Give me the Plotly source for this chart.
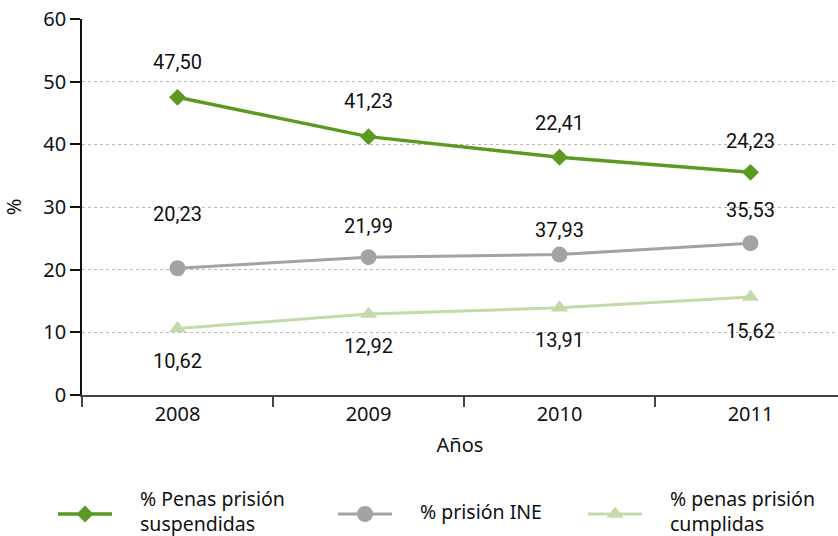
import plotly.graph_objects as go

# ---- data ----
years = ["2008", "2009", "2010", "2011"]
suspendidas = [47.50, 41.23, 37.93, 35.53]
prision_ine = [20.23, 21.99, 22.41, 24.23]
cumplidas = [10.62, 12.92, 13.91, 15.62]

labels_suspendidas = ["47,50", "41,23", "22,41", "24,23"]
labels_ine = ["20,23", "21,99", "37,93", "35,53"]
labels_cumplidas = ["10,62", "12,92", "13,91", "15,62"]

series_names = ["% Penas prisión<br>suspendidas", "% prisión INE", "% penas prisión<br>cumplidas"]

GREEN = "#5a9a22"
GRAY = "#a3a3a3"
LIGHT = "#c3dbaa"
AXFONT = "Noto Sans"
LBLFONT = "Roboto"
TXT = "#111"

W, H = 838, 536
left, top, bottom = 82, 19, 395

fig = go.Figure()

styles = [
    (suspendidas, GREEN, "diamond", 13, 3.5),
    (prision_ine, GRAY, "circle", 16, 3),
    (cumplidas, LIGHT, "triangle-up", 15, 3),
]
for vals, col, sym, size, lw in styles:
    fig.add_trace(go.Scatter(
        x=years, y=vals, mode="lines+markers",
        line=dict(color=col, width=lw),
        marker=dict(symbol=sym, size=size, color=col),
        showlegend=False, cliponaxis=False,
    ))

# value labels, offset from each point (pixels); category axis positions are indices
label_sets = [
    (suspendidas, labels_suspendidas, [35, 36, 34, 31]),
    (prision_ine, labels_ine, [54, 31, 25, 33]),
    (cumplidas, labels_cumplidas, [-33, -32, -32, -34]),
]
for vals, texts, shifts in label_sets:
    for i, (v, t, s) in enumerate(zip(vals, texts, shifts)):
        fig.add_annotation(x=i, y=v, text=t, showarrow=False, yshift=s,
                           xref="x", yref="y",
                           font=dict(family=LBLFONT, size=20, color=TXT))

# legend drawn on an overlay axis measured in pixels
leg_y = 514
leg_items = [(58, 112, GREEN, "diamond", 13, 3.5, 138),
             (338, 392, GRAY, "circle", 16, 3, 418),
             (588, 642, LIGHT, "triangle-up", 15, 3, 668)]
for (x0, x1, col, sym, size, lw, tx), name in zip(leg_items, series_names):
    fig.add_trace(go.Scatter(x=[x0, x1], y=[leg_y, leg_y], mode="lines",
                             line=dict(color=col, width=lw), xaxis="x2", yaxis="y2",
                             showlegend=False, hoverinfo="skip"))
    fig.add_trace(go.Scatter(x=[(x0 + x1) / 2], y=[leg_y], mode="markers",
                             marker=dict(symbol=sym, size=size, color=col), xaxis="x2", yaxis="y2",
                             showlegend=False, hoverinfo="skip"))
    fig.add_annotation(x=tx, y=leg_y - 3, text=name, showarrow=False, xref="x2", yref="y2",
                       xanchor="left", yanchor="middle", align="left",
                       font=dict(family=AXFONT, size=19.5, color=TXT))

fig.update_layout(
    width=W, height=H,
    margin=dict(l=0, r=0, t=0, b=0),
    paper_bgcolor="white", plot_bgcolor="rgba(0,0,0,0)",
    font=dict(family=AXFONT, size=20, color=TXT),
    xaxis=dict(
        domain=[left / W, 1], type="category", range=[-0.5, -0.5 + (W - left) / 191.0],
        tickson="boundaries", ticks="outside", ticklen=10, tickcolor="#444", tickwidth=1.5,
        showline=True, linecolor="#444", linewidth=2, showgrid=False, zeroline=False,
        tickfont=dict(family=AXFONT, size=20, color=TXT),
        title=dict(text="Años", font=dict(family=AXFONT, size=20, color=TXT), standoff=12),
        anchor="y", automargin=False,
    ),
    yaxis=dict(
        domain=[(H - bottom) / H, (H - top) / H], range=[0, 60], dtick=10,
        ticks="outside", ticklen=10, tickcolor="#111", tickwidth=1.5,
        showline=True, linecolor="#111", linewidth=1.5,
        showgrid=True, gridcolor="#b8b8b8", griddash="dot", gridwidth=1,
        zeroline=False,
        tickfont=dict(family=AXFONT, size=20, color=TXT),
        title=dict(text="%", font=dict(family=AXFONT, size=20, color=TXT), standoff=20),
        anchor="x", automargin=False,
    ),
    xaxis2=dict(domain=[0, 1], range=[0, W], visible=False, anchor="y2", fixedrange=True),
    yaxis2=dict(domain=[0, 64 / H], range=[H, H - 64], visible=False, anchor="x2", fixedrange=True),
)

fig.write_html("out.html")
